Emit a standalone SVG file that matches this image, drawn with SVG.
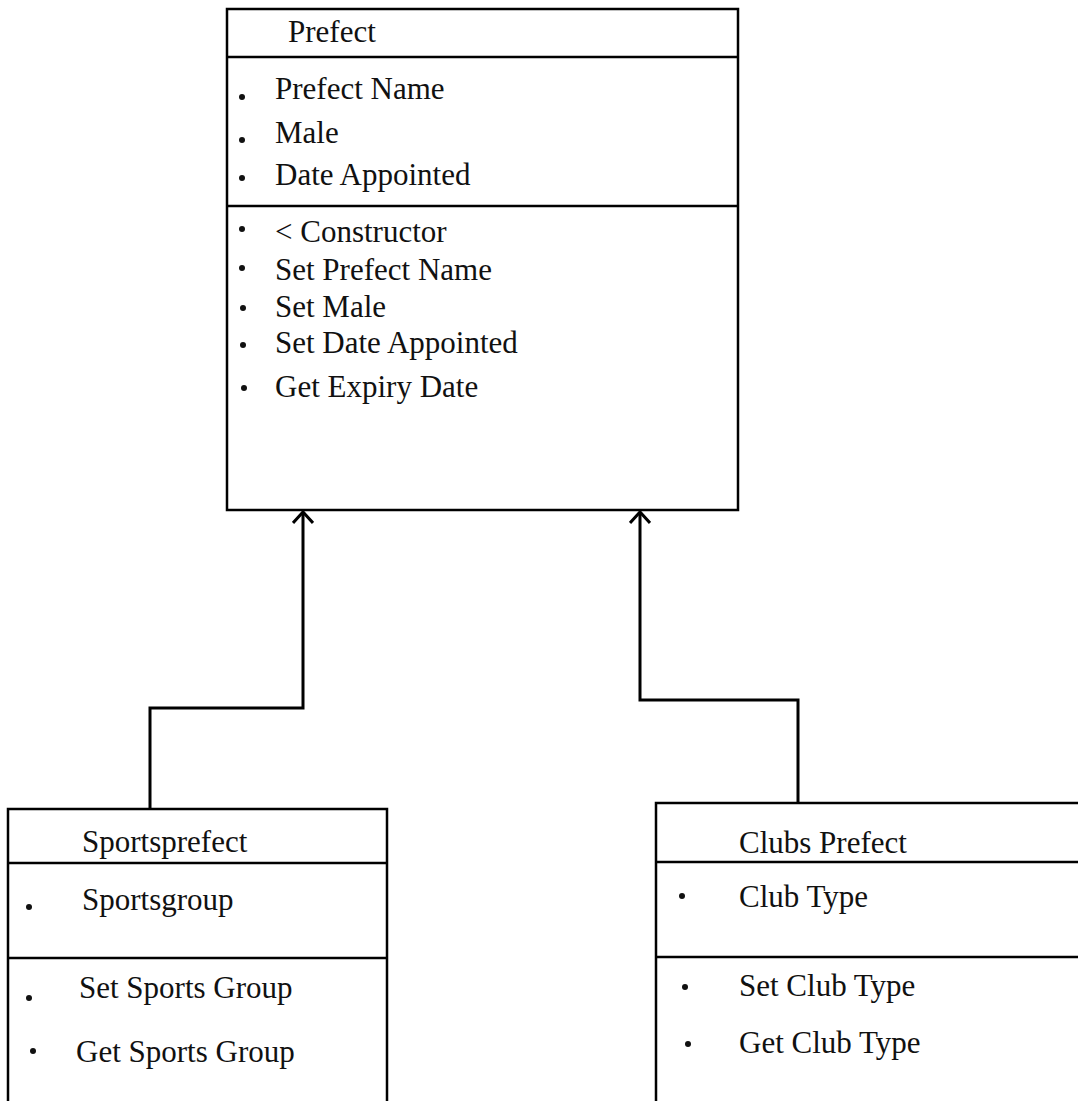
<svg xmlns="http://www.w3.org/2000/svg" width="1078" height="1101" viewBox="0 0 1078 1101">
<style>
.box{fill:none;stroke:#000;stroke-width:2.5}
.ln{stroke:#000;stroke-width:2.5}
.t{font-family:"Liberation Serif","Times New Roman",serif;font-size:31px;fill:#111}
.b{fill:#111}
.con{fill:none;stroke:#000;stroke-width:3}
</style>
<defs>
<marker id="arr" markerWidth="18" markerHeight="22" refX="14" refY="11" orient="auto" markerUnits="userSpaceOnUse" viewBox="0 0 18 22">
<path d="M3 1 L14 11 L3 21" fill="none" stroke="#000" stroke-width="3"/>
</marker>
</defs>
<rect width="1078" height="1101" fill="#fff"/>
<g id="prefect">
<rect class="box" x="227" y="9" width="511" height="501"/>
<line class="ln" x1="227" y1="57" x2="738" y2="57"/>
<line class="ln" x1="227" y1="206" x2="738" y2="206"/>
<text class="t" x="288" y="42">Prefect</text>
<circle class="b" cx="242" cy="97" r="3"/><text class="t" x="275" y="99">Prefect Name</text>
<circle class="b" cx="242" cy="140" r="3"/><text class="t" x="275" y="143">Male</text>
<circle class="b" cx="242" cy="178" r="3"/><text class="t" x="275" y="185">Date Appointed</text>
<circle class="b" cx="242" cy="229" r="3"/><text class="t" x="275" y="242">&lt; Constructor</text>
<circle class="b" cx="242" cy="268" r="3"/><text class="t" x="275" y="280">Set Prefect Name</text>
<circle class="b" cx="243" cy="308" r="3"/><text class="t" x="275" y="317">Set Male</text>
<circle class="b" cx="243" cy="345" r="3"/><text class="t" x="275" y="353">Set Date Appointed</text>
<circle class="b" cx="244" cy="388" r="3"/><text class="t" x="275" y="397">Get Expiry Date</text>
</g>
<g id="sportsprefect">
<rect class="box" x="8" y="809" width="379" height="320"/>
<line class="ln" x1="8" y1="863" x2="387" y2="863"/>
<line class="ln" x1="8" y1="958" x2="387" y2="958"/>
<text class="t" x="82" y="852">Sportsprefect</text>
<circle class="b" cx="29" cy="907" r="3"/><text class="t" x="82" y="910">Sportsgroup</text>
<circle class="b" cx="29" cy="998" r="3"/><text class="t" x="79" y="998">Set Sports Group</text>
<circle class="b" cx="33" cy="1051" r="3"/><text class="t" x="76" y="1062">Get Sports Group</text>
</g>
<g id="clubsprefect">
<rect class="box" x="656" y="803" width="440" height="320"/>
<line class="ln" x1="656" y1="862" x2="1078" y2="862"/>
<line class="ln" x1="656" y1="957" x2="1078" y2="957"/>
<text class="t" x="739" y="853">Clubs Prefect</text>
<circle class="b" cx="682" cy="896" r="3"/><text class="t" x="739" y="907">Club Type</text>
<circle class="b" cx="685" cy="987" r="3"/><text class="t" x="739" y="996">Set Club Type</text>
<circle class="b" cx="688" cy="1044" r="3"/><text class="t" x="739" y="1053">Get Club Type</text>
</g>
<g id="connectors">
<path class="con" d="M150 809 V708 H303 V512" marker-end="url(#arr)"/>
<path class="con" d="M798 803 V700 H640 V512" marker-end="url(#arr)"/>
</g>
</svg>
